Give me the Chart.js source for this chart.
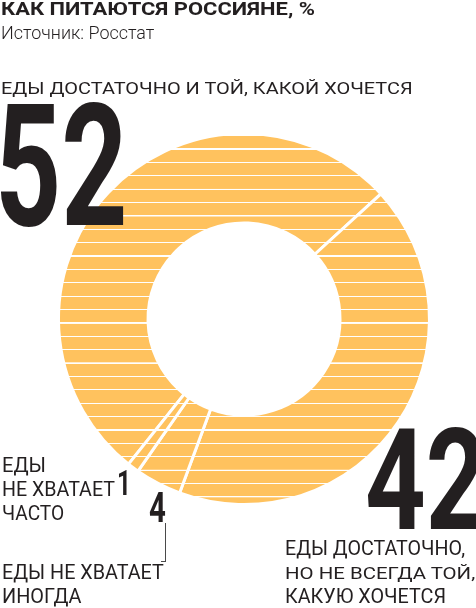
<!DOCTYPE html>
<html lang="ru">
<head>
<meta charset="utf-8">
<script src="https://cdn.jsdelivr.net/npm/chart.js@4"></script>
<style>
    html, body { margin: 0; padding: 0; background: #fff; }
    body { width: 476px; height: 608px; overflow: hidden; position: relative; }
    #chart { position: absolute; left: 0; top: 0; }
    .txt {
        position: absolute;
        white-space: nowrap;
        font-family: Roboto, "Noto Sans", sans-serif;
        transform-origin: 0 0;
        color: #231f20;
        z-index: 2;
    }
    #leader {
        position: absolute;
        left: 161px; top: 523px; width: 4px; height: 38px;
        border-right: 1px solid #4a4a4a;
        border-bottom: 1px solid #4a4a4a;
        z-index: 2;
    }
</style>
</head>
<body>
<canvas id="chart" width="476" height="608"></canvas>
<div id="leader"></div>
<script>
// data, %
const categories = [
    "Еды достаточно и той, какой хочется",
    "Еды достаточно, но не всегда той, какую хочется",
    "Еды не хватает иногда",
    "Еды не хватает часто",
];
const shares = [52, 42, 4, 1];
const shareLabels = ["52", "42", "4", "1"];

const stripeFill = "#ffc25e";

// horizontal white stripes, ~13.4px pitch
const makeStripes = (ctx) => {
    const tile = document.createElement("canvas");
    tile.width = 4;
    tile.height = 134;
    const t = tile.getContext("2d");
    t.fillStyle = stripeFill;
    t.fillRect(0, 0, 4, 134);
    t.fillStyle = "#ffffff";
    t.fillRect(0, 0, 4, 12);
    const pattern = ctx.createPattern(tile, "repeat");
    pattern.setTransform(new DOMMatrix([1, 0, 0, 13.38 / 134, 0, 1.22]));
    return pattern;
};

const ctx = document.getElementById("chart").getContext("2d");
const stripes = makeStripes(ctx);

new Chart(ctx, {
    type: "doughnut",
    data: {
        labels: categories,
        datasets: [
            {
                data: shares,
                backgroundColor: stripes,
                hoverBackgroundColor: stripes,
                borderColor: "#ffffff",
                borderWidth: 3,
                hoverBorderWidth: 3,
                offset: 0,
                hoverOffset: 0,
            },
        ],
    },
    options: {
        responsive: false,
        animation: false,
        events: [],
        rotation: -141.5,
        cutout: "51.75%",
        layout: { padding: { left: 57, top: 132, right: 45, bottom: 102 } },
        plugins: {
            legend: { display: false },
            tooltip: { enabled: false },
        },
    },
});

// text is placed by ink box: left x, cap top, cap height, ink width
const measure = document.createElement("canvas").getContext("2d");

const placeText = (text, x, capTop, capH, width, weight) => {
    measure.font = `${weight} 100px Roboto`;
    const asc100 = measure.measureText(text).actualBoundingBoxAscent;
    const fs = (capH / asc100) * 100;
    measure.font = `${weight} ${fs}px Roboto`;
    const m = measure.measureText(text);
    const ink = m.actualBoundingBoxLeft + m.actualBoundingBoxRight;
    const scale = width / ink;
    const baseOff = (fs - (m.fontBoundingBoxAscent + m.fontBoundingBoxDescent)) / 2 + m.fontBoundingBoxAscent;

    const el = document.createElement("div");
    el.className = "txt";
    el.textContent = text;
    el.style.fontSize = fs + "px";
    el.style.fontWeight = weight;
    el.style.lineHeight = fs + "px";
    el.style.left = x + m.actualBoundingBoxLeft * scale + "px";
    el.style.top = capTop + m.actualBoundingBoxAscent - baseOff + "px";
    el.style.transform = `scaleX(${scale})`;
    document.body.appendChild(el);
};

placeText("КАК ПИТАЮТСЯ РОССИЯНЕ, %", 2, 2.7, 13.5, 312, 700);
placeText("Источник: Росстат", 2, 27.3, 12.7, 153, 300);

placeText("ЕДЫ ДОСТАТОЧНО И ТОЙ, КАКОЙ ХОЧЕТСЯ", 2.5, 79.3, 15, 410, 400);
placeText(shareLabels[0], 0, 101.7, 124.3, 123.3, 700);

placeText(shareLabels[1], 367.3, 428.3, 103.4, 115.4, 700);
placeText("ЕДЫ ДОСТАТОЧНО,", 286, 540, 15, 179, 400);
placeText("НО НЕ ВСЕГДА ТОЙ,", 286, 564.3, 15, 189, 400);
placeText("КАКУЮ ХОЧЕТСЯ", 286, 588.3, 15, 159, 400);

placeText("ЕДЫ", 2.7, 456.7, 14.5, 41.6, 400);
placeText("НЕ ХВАТАЕТ", 2.7, 481, 14.5, 112, 400);
placeText("ЧАСТО", 2.7, 505.7, 14.5, 60.6, 400);
placeText(shareLabels[3], 118.3, 470, 25, 8.4, 700);

placeText(shareLabels[2], 149.3, 492.3, 31, 15.7, 700);
placeText("ЕДЫ НЕ ХВАТАЕТ", 2.7, 564.3, 14.8, 160.6, 400);
placeText("ИНОГДА", 2.7, 588.3, 14.8, 78.3, 400);
</script>
</body>
</html>
